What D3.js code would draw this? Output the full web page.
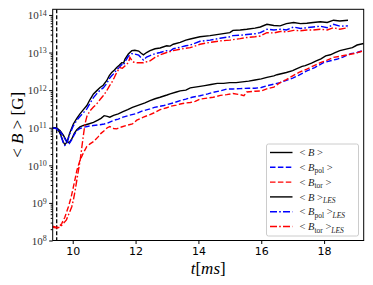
<!DOCTYPE html>
<html>
<head>
<meta charset="utf-8">
<script src="https://cdn.jsdelivr.net/npm/d3@7"></script>
<style>
  body { margin: 0; background: #fff; }
  svg { display: block; }
  .serif { font-family: "Liberation Serif", "DejaVu Serif", serif; }
</style>
</head>
<body>
<script>
// series: [t in ms, log10 of <B> in G]
var bLes = [[9.36,11.0],[9.5,10.98],[9.6,10.85],[9.7,10.62],[9.75,10.55],[9.82,10.62],[9.9,10.85],[10.02,11.1],[10.13,11.25],[10.23,11.37],[10.34,11.48],[10.45,11.59],[10.55,11.75],[10.66,11.9],[10.76,11.98],[10.87,12.07],[10.97,12.13],[11.08,12.25],[11.16,12.38],[11.24,12.47],[11.32,12.53],[11.4,12.6],[11.48,12.66],[11.56,12.73],[11.62,12.72],[11.66,12.82],[11.77,12.96],[11.88,13.05],[11.98,13.06],[12.1,13.04],[12.18,12.98],[12.25,12.94],[12.35,13.0],[12.46,13.05],[12.62,13.1],[12.78,13.12],[12.99,13.18],[13.1,13.17],[13.2,13.22],[13.42,13.27],[13.6,13.33],[13.74,13.36],[14.05,13.42],[14.37,13.45],[14.69,13.49],[15.0,13.53],[15.1,13.59],[15.33,13.6],[15.54,13.62],[15.8,13.65],[15.97,13.68],[16.18,13.75],[16.4,13.72],[16.6,13.71],[16.8,13.77],[17.03,13.8],[17.25,13.77],[17.45,13.78],[17.65,13.8],[17.88,13.82],[18.1,13.8],[18.3,13.86],[18.5,13.84],[18.76,13.86]];
var bPolLes = [[9.36,11.0],[9.5,10.97],[9.6,10.84],[9.7,10.6],[9.75,10.53],[9.82,10.6],[9.9,10.82],[10.02,11.05],[10.13,11.2],[10.23,11.3],[10.34,11.4],[10.45,11.5],[10.55,11.65],[10.66,11.8],[10.76,11.9],[10.87,12.0],[10.97,12.06],[11.08,12.17],[11.16,12.3],[11.24,12.38],[11.32,12.45],[11.4,12.55],[11.48,12.6],[11.56,12.68],[11.62,12.66],[11.66,12.75],[11.77,12.9],[11.88,12.97],[11.98,12.96],[12.1,12.93],[12.18,12.86],[12.25,12.8],[12.35,12.88],[12.46,12.92],[12.62,12.97],[12.78,13.0],[12.99,13.05],[13.1,13.04],[13.2,13.1],[13.42,13.14],[13.6,13.18],[13.74,13.2],[14.05,13.3],[14.37,13.33],[14.69,13.38],[15.0,13.42],[15.1,13.45],[15.33,13.46],[15.54,13.48],[15.8,13.5],[15.97,13.53],[16.18,13.62],[16.4,13.6],[16.6,13.62],[16.8,13.6],[17.03,13.68],[17.25,13.64],[17.45,13.66],[17.65,13.68],[17.88,13.7],[18.1,13.66],[18.3,13.75],[18.5,13.7],[18.76,13.71]];
var bTorLes = [[9.36,8.35],[9.5,8.33],[9.6,8.36],[9.7,8.45],[9.8,8.55],[9.9,8.75],[9.97,8.9],[10.02,9.07],[10.07,9.3],[10.13,9.6],[10.18,9.86],[10.24,10.15],[10.29,10.48],[10.34,10.8],[10.39,11.1],[10.45,11.3],[10.55,11.45],[10.66,11.55],[10.76,11.63],[10.87,11.75],[10.97,11.85],[11.08,11.98],[11.16,12.1],[11.24,12.2],[11.32,12.33],[11.4,12.47],[11.5,12.6],[11.58,12.58],[11.67,12.65],[11.77,12.73],[11.82,12.87],[11.91,12.75],[12.04,12.73],[12.25,12.73],[12.46,12.78],[12.62,12.87],[12.78,12.94],[12.99,13.0],[13.2,13.05],[13.42,13.09],[13.74,13.13],[14.05,13.22],[14.37,13.27],[14.69,13.31],[15.0,13.33],[15.33,13.37],[15.54,13.4],[15.8,13.42],[15.97,13.44],[16.18,13.53],[16.4,13.52],[16.6,13.56],[16.8,13.55],[17.03,13.59],[17.25,13.58],[17.45,13.6],[17.65,13.6],[17.88,13.62],[18.1,13.6],[18.3,13.66],[18.5,13.62],[18.76,13.66]];
var bAll = [[9.36,11.0],[9.5,10.99],[9.6,10.92],[9.7,10.8],[9.8,10.65],[9.89,10.6],[9.97,10.7],[10.05,10.85],[10.13,10.95],[10.23,11.02],[10.34,11.06],[10.5,11.1],[10.66,11.14],[10.8,11.2],[10.9,11.25],[11.0,11.32],[11.1,11.3],[11.18,11.28],[11.3,11.33],[11.45,11.37],[11.6,11.43],[11.75,11.48],[11.9,11.54],[12.1,11.6],[12.3,11.66],[12.46,11.72],[12.62,11.77],[12.78,11.81],[13.0,11.87],[13.1,11.9],[13.3,11.95],[13.42,11.98],[13.6,12.0],[13.74,12.06],[14.05,12.1],[14.2,12.12],[14.4,12.15],[14.6,12.18],[14.8,12.18],[15.0,12.2],[15.2,12.2],[15.4,12.22],[15.6,12.24],[15.8,12.27],[16.0,12.3],[16.18,12.34],[16.4,12.38],[16.5,12.41],[16.8,12.47],[17.0,12.52],[17.1,12.56],[17.3,12.63],[17.4,12.65],[17.6,12.72],[17.75,12.78],[17.9,12.83],[18.05,12.91],[18.2,12.94],[18.35,13.0],[18.5,13.05],[18.7,13.09],[18.9,13.13],[19.05,13.2],[19.26,13.24]];
var bPol = [[9.36,11.0],[9.5,10.98],[9.6,10.9],[9.7,10.78],[9.8,10.63],[9.89,10.58],[9.97,10.68],[10.05,10.82],[10.13,10.92],[10.23,10.98],[10.34,11.01],[10.5,11.04],[10.66,11.06],[10.87,11.08],[11.0,11.1],[11.1,11.12],[11.28,11.19],[11.45,11.23],[11.6,11.28],[11.8,11.33],[12.0,11.37],[12.2,11.44],[12.46,11.5],[12.6,11.54],[12.9,11.59],[13.2,11.66],[13.42,11.72],[13.6,11.76],[13.8,11.81],[14.05,11.85],[14.3,11.9],[14.47,11.94],[14.7,11.98],[14.9,12.03],[15.1,12.03],[15.33,12.04],[15.6,12.05],[15.8,12.05],[16.0,12.07],[16.2,12.12],[16.4,12.16],[16.6,12.2],[16.8,12.26],[17.0,12.32],[17.2,12.4],[17.45,12.51],[17.7,12.6],[17.98,12.73],[18.2,12.78],[18.4,12.82],[18.6,12.88],[18.85,12.97],[19.05,13.0],[19.26,13.06]];
var bTor = [[9.36,8.38],[9.5,8.35],[9.6,8.4],[9.65,8.45],[9.75,8.62],[9.86,8.89],[9.95,9.15],[10.02,9.42],[10.08,9.65],[10.13,9.86],[10.23,10.13],[10.35,10.35],[10.45,10.5],[10.55,10.57],[10.66,10.63],[10.8,10.75],[10.9,10.85],[11.0,10.92],[11.1,11.0],[11.18,11.03],[11.3,10.98],[11.4,10.97],[11.55,11.02],[11.7,11.06],[11.9,11.1],[12.04,11.2],[12.25,11.28],[12.46,11.35],[12.6,11.4],[12.78,11.48],[12.99,11.53],[13.1,11.57],[13.3,11.6],[13.42,11.63],[13.6,11.66],[13.74,11.67],[13.9,11.7],[14.05,11.76],[14.3,11.79],[14.47,11.81],[14.7,11.86],[14.9,11.88],[15.1,11.91],[15.33,11.88],[15.45,11.85],[15.54,11.95],[15.8,11.97],[16.0,11.98],[16.2,12.04],[16.4,12.08],[16.6,12.2],[16.8,12.28],[17.0,12.38],[17.2,12.47],[17.45,12.56],[17.7,12.66],[17.88,12.73],[18.1,12.8],[18.3,12.87],[18.5,12.9],[18.75,12.94],[19.0,12.98],[19.26,13.05]];

var xTicks = [10, 12, 14, 16, 18];
var yExps = [8, 9, 10, 11, 12, 13, 14];
var tMarker = 9.49;

var width = 373, height = 285;
var margin = {left: 52.7, right: 9.3, top: 9.3, bottom: 44.5};

var svg = d3.select("body").append("svg")
    .attr("width", width)
    .attr("height", height);

var x = d3.scaleLinear().domain([9.363, 19.26]).range([margin.left, width - margin.right]);
var y = d3.scaleLog().domain([1e8, Math.pow(10, 14.15)]).range([height - margin.bottom, margin.top]);

var line = d3.line()
    .x(function (d) { return x(d[0]); })
    .y(function (d) { return y(Math.pow(10, d[1])); });

var DASH = "5.5,2.4";
var DASHDOT = "7,2.2,1.6,2.2";

var series = [
    {data: bAll, color: "#000", dash: null},
    {data: bPol, color: "#0000ff", dash: DASH},
    {data: bTor, color: "#ff0000", dash: DASH},
    {data: bLes, color: "#000", dash: null},
    {data: bPolLes, color: "#0000ff", dash: DASHDOT},
    {data: bTorLes, color: "#ff0000", dash: DASHDOT}
];

// clip to plot area
svg.append("clipPath").attr("id", "clip")
  .append("rect")
    .attr("x", margin.left).attr("y", margin.top)
    .attr("width", width - margin.left - margin.right)
    .attr("height", height - margin.top - margin.bottom);

var plot = svg.append("g").attr("clip-path", "url(#clip)");

// vertical marker
plot.append("line")
    .attr("x1", x(tMarker)).attr("x2", x(tMarker))
    .attr("y1", margin.top).attr("y2", height - margin.bottom)
    .style("stroke", "#000")
    .style("stroke-width", 1.3)
    .style("stroke-dasharray", "4,2");

series.forEach(function (s) {
    plot.append("path")
        .datum(s.data)
        .attr("d", line)
        .style("fill", "none")
        .style("stroke", s.color)
        .style("stroke-width", 1.4)
        .style("stroke-dasharray", s.dash);
});

// x axis
var xAxis = svg.append("g")
    .attr("transform", "translate(0," + (height - margin.bottom) + ")")
    .call(d3.axisBottom(x).tickValues(xTicks).tickSize(3.5).tickPadding(3).tickFormat(d3.format("d")));
xAxis.select(".domain").remove();
xAxis.selectAll("text")
    .style("font-family", "DejaVu Sans")
    .style("font-size", "11px")
    .style("fill", "#000");

// y axis minor ticks
var minor = [];
for (var e = 8; e < 15; e++) {
    for (var m = 2; m < 10; m++) {
        var v = m * Math.pow(10, e);
        if (v <= y.domain()[1]) minor.push(v);
    }
}
var yMinor = svg.append("g")
    .attr("transform", "translate(" + margin.left + ",0)")
    .call(d3.axisLeft(y).tickValues(minor).tickSize(2).tickFormat(""));
yMinor.select(".domain").remove();

var yAxis = svg.append("g")
    .attr("transform", "translate(" + margin.left + ",0)")
    .call(d3.axisLeft(y).tickValues(yExps.map(function (d) { return Math.pow(10, d); })).tickSize(3.5).tickFormat(""));
yAxis.select(".domain").remove();

yAxis.selectAll(".tick").each(function (d, i) {
    var t = d3.select(this).append("text")
        .attr("class", "serif")
        .attr("x", -6)
        .attr("dy", "0.35em")
        .attr("text-anchor", "end")
        .style("font-size", "11px")
        .style("fill", "#333");
    t.append("tspan").text("10");
    t.append("tspan").attr("dy", "-0.45em").style("font-size", "8px").text(yExps[i]);
});

// frame
svg.append("rect")
    .attr("x", margin.left).attr("y", margin.top)
    .attr("width", width - margin.left - margin.right)
    .attr("height", height - margin.top - margin.bottom)
    .style("fill", "none")
    .style("stroke", "#000")
    .style("stroke-width", 1);

// axis labels
var yl = svg.append("text")
    .attr("class", "serif")
    .attr("transform", "translate(23," + (margin.top + (height - margin.top - margin.bottom) / 2) + ") rotate(-90)")
    .attr("text-anchor", "middle")
    .style("font-size", "17px");
yl.append("tspan").text("< ");
yl.append("tspan").style("font-style", "italic").text("B");
yl.append("tspan").text(" > [G]");

var xl = svg.append("text")
    .attr("class", "serif")
    .attr("x", (margin.left + width - margin.right) / 2)
    .attr("y", 274)
    .attr("text-anchor", "middle")
    .style("font-size", "17px");
xl.append("tspan").style("font-style", "italic").text("t");
xl.append("tspan").text("[");
xl.append("tspan").style("font-style", "italic").text("ms");
xl.append("tspan").text("]");

// legend
var legendItems = [
    {color: "#000", dash: null, sub: null, les: false},
    {color: "#0000ff", dash: DASH, sub: "pol", les: false},
    {color: "#ff0000", dash: DASH, sub: "tor", les: false},
    {color: "#000", dash: null, sub: null, les: true},
    {color: "#0000ff", dash: DASHDOT, sub: "pol", les: true},
    {color: "#ff0000", dash: DASHDOT, sub: "tor", les: true}
];

var lg = svg.append("g").attr("transform", "translate(266.5,144)");
lg.append("rect")
    .attr("width", 92).attr("height", 92)
    .attr("rx", 2)
    .style("fill", "#fff")
    .style("fill-opacity", 0.8)
    .style("stroke", "#ccc")
    .style("stroke-width", 1);

legendItems.forEach(function (it, i) {
    var yy = 8.5 + i * 14.8;
    lg.append("line")
        .attr("x1", 3.5).attr("x2", 26)
        .attr("y1", yy).attr("y2", yy)
        .style("stroke", it.color)
        .style("stroke-width", 1.4)
        .style("stroke-dasharray", it.dash);
    var t = lg.append("text")
        .attr("class", "serif")
        .attr("x", 33).attr("y", yy)
        .attr("dy", "0.35em")
        .style("font-size", "10.5px")
        .style("fill", "#222");
    t.append("tspan").text("< ");
    t.append("tspan").style("font-style", "italic").text("B");
    if (it.sub) t.append("tspan").attr("dy", "2.5").style("font-size", "7.5px").text(it.sub);
    t.append("tspan").attr("dy", it.sub ? "-2.5" : null).text(" >");
    if (it.les) t.append("tspan").attr("dy", "2.5").style("font-size", "7.5px").style("font-style", "italic").text("LES");
});
</script>
</body>
</html>
